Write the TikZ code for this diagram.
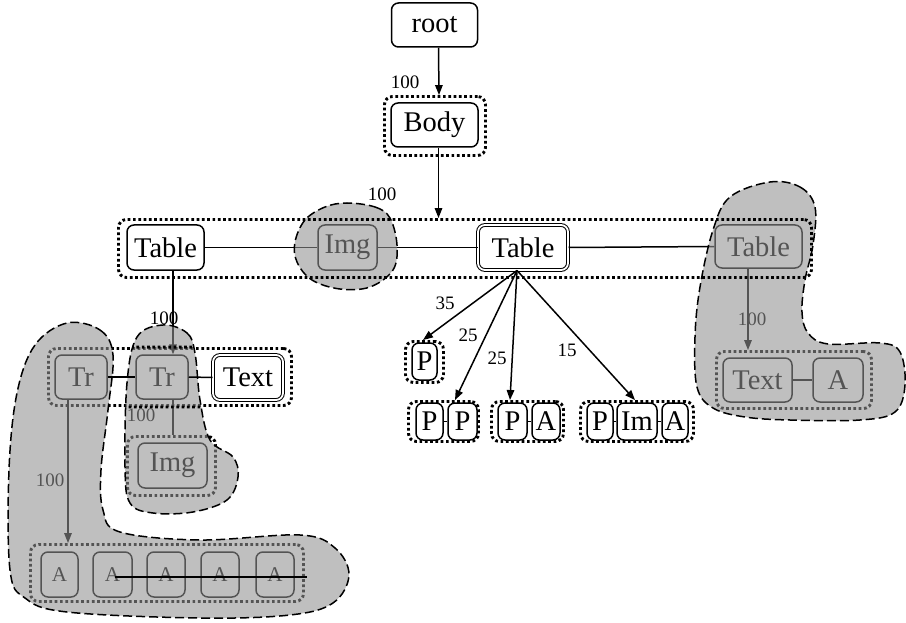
\documentclass[tikz,border=0pt]{standalone}
\usepackage{fontspec}
\setmainfont{Liberation Serif}
\usetikzlibrary{arrows.meta}
\newcommand\nodefont{\fontsize{28.5}{30}\selectfont}
\newcommand\edgefont{\fontsize{19}{20}\selectfont}
\newcommand\smallafont{\fontsize{21}{22}\selectfont}
\begin{document}
\begin{tikzpicture}[x=1pt,y=-1pt,
  box/.style={draw, rounded corners=7pt, line width=1.5pt, inner sep=0pt, font=\nodefont},
  dbox/.style={box, double, double distance=1.8pt, line width=1pt},
  grp/.style={draw, rounded corners=8pt, line width=2.9pt, dash pattern=on 2.7pt off 2.6pt, inner sep=0pt},
  blob/.style={fill=black!43, fill opacity=0.58, draw=black, line width=1.5pt, dash pattern=on 9pt off 4pt},
  arr/.style={line width=1.5pt, -{Triangle[length=10pt,width=7.5pt]}},
  link/.style={line width=1.5pt},
  lbl/.style={font=\edgefont, inner sep=0pt}]
\useasboundingbox (0,0) rectangle (906,623);

% --- top chain
\node[box, minimum width=86pt, minimum height=44pt] (root) at (434.5,25) {root};
\node[grp, minimum width=101pt, minimum height=59pt] (gbody) at (435,126) {};
\node[box, minimum width=87pt, minimum height=44pt] (body) at (434.5,125) {Body};
\draw[arr] ([xshift=4pt]root.south) -- ([xshift=4pt]gbody.north);
\node[lbl] (l1) at (405,82) {100};

% --- table row
\node[box, minimum width=77pt, minimum height=45pt] (table1) at (165.5,247.5) {Table};
\node[box, minimum width=59pt, minimum height=45pt] (img1) at (347.5,247.5) {Img};
\node[dbox, minimum width=90pt, minimum height=45pt] (tablec) at (523,247.5) {Table};
\node[box, minimum width=87pt, minimum height=43pt] (tabler) at (758.5,246.5) {Table};
\draw[link] (table1.east) -- (img1.west);
\draw[link] (img1.east) -- (tablec.west);
\draw[link] (tablec.east) -- (tabler.west);

% --- paragraph groups under the centre table
\node[grp, minimum width=38pt, minimum height=41pt] (gp1) at (424.5,362) {};
\node[box, minimum width=25pt, minimum height=37pt] (p1) at (424.5,361.5) {P};

\node[grp, minimum width=70pt, minimum height=40pt] (gpp) at (443.5,421.5) {};
\node[box, minimum width=27pt, minimum height=37pt] (pp1) at (429.5,421.5) {P};
\node[box, minimum width=29pt, minimum height=37pt] (pp2) at (462.5,421.5) {P};
\draw[link] (pp1.east) -- (pp2.west);

\node[grp, minimum width=72pt, minimum height=40pt] (gpa) at (527.5,421.5) {};
\node[box, minimum width=29pt, minimum height=37pt] (pa1) at (512.5,421.5) {P};
\node[box, minimum width=28pt, minimum height=37pt] (pa2) at (546,421.5) {A};
\draw[link] (pa1.east) -- (pa2.west);

\node[grp, minimum width=113pt, minimum height=40pt] (gpima) at (637,421.5) {};
\node[box, minimum width=26pt, minimum height=37pt] (pi1) at (600,421.5) {P};
\node[box, minimum width=40pt, minimum height=37pt] (pi2) at (637,421.5) {Im};
\node[box, minimum width=26pt, minimum height=37pt] (pi3) at (675,421.5) {A};
\draw[link] (pi1.east) -- (pi2.west);
\draw[link] (pi2.east) -- (pi3.west);

\draw[arr] ([xshift=-6pt]tablec.south) -- ([xshift=-1.5pt]gp1.north);
\draw[arr] ([xshift=-6pt]tablec.south) -- ([xshift=11.5pt]gpp.north);
\draw[arr] ([xshift=-6pt]tablec.south) -- ([xshift=-17.5pt]gpa.north);
\draw[arr] ([xshift=-6pt]tablec.south) -- ([xshift=-2pt]gpima.north);
\node[lbl] (l35) at (445,303) {35};
\node[lbl] (l25a) at (468,335) {25};
\node[lbl] (l25b) at (497,358) {25};
\node[lbl] (l15) at (567,350) {15};

% --- right branch
\node[grp, minimum width=155pt, minimum height=57pt] (gta) at (794,380) {};
\node[box, minimum width=69pt, minimum height=44pt] (text2) at (757.5,380) {Text};
\node[box, minimum width=50pt, minimum height=44pt] (a2) at (838,380) {A};
\draw[link] (text2.east) -- (a2.west);
\draw[arr] ([xshift=-10.5pt]tabler.south) -- ([xshift=-46pt]gta.north);
\node[lbl] (lr) at (752,319) {100};

% --- left branch
\node[grp, minimum width=243pt, minimum height=57pt] (gtr) at (170,377) {};
\node[box, minimum width=52pt, minimum height=44pt] (tr1) at (81,377) {Tr};
\node[box, minimum width=52pt, minimum height=44pt] (tr2) at (162,377) {Tr};
\node[dbox, minimum width=70pt, minimum height=45pt] (text1) at (248,377.5) {Text};
\draw[arr] ([xshift=7.5pt]table1.south) -- ([xshift=11pt]tr2.north);

\node[grp, minimum width=88pt, minimum height=59pt] (gimg) at (171.5,466) {};
\node[box, minimum width=69pt, minimum height=45pt] (img2) at (172.5,465.5) {Img};
\draw[link] ([xshift=11pt]tr2.south) -- ([xshift=1.5pt]gimg.north);
\node[lbl] (limg) at (141,415) {100};

\node[grp, minimum width=273pt, minimum height=57pt] (garow) at (167,573) {};
\foreach \i/\cx/\w in {1/59.5/37, 2/112.5/39, 3/166/38, 4/220/38, 5/275/38}
  \node[box, font=\smallafont, minimum width=\w pt, minimum height=45pt] (ar\i) at (\cx,574.5) {A};
\draw[arr] ([xshift=-13pt]tr1.south) -- ([xshift=-99pt]garow.north);
\node[lbl] (la) at (50,480) {100};
\coordinate (aend) at (307,577);

% --- shaded clusters
\path[blob] plot[smooth cycle, tension=0.6] coordinates {
  (67,323) (100,330) (113,355) (108,410) (101,470) (103,510) (120,532)
  (200,540) (300,535) (335,548) (349,575) (333,603) (290,615) (200,618)
  (67,612) (25,598) (10,570) (9,470) (17,393) (35,345)};
\path[blob] plot[smooth cycle, tension=0.6] coordinates {
  (163,325) (187,333) (195,353) (200,400) (210,440) (233,457) (238,477)
  (227,500) (193,512) (153,513) (130,503) (125,467) (127,383) (137,337)};
\path[blob] plot[smooth cycle, tension=0.6] coordinates {
  (347,203) (375,207) (390,218) (397,245) (393,270) (370,287) (340,289)
  (312,280) (297,262) (295,242) (305,220) (325,207)};
\path[blob] plot[smooth cycle, tension=0.6] coordinates {
  (770,182) (800,187) (815,207) (813,245) (805,280) (802,312) (808,333)
  (828,344) (880,343) (900,352) (905,385) (895,412) (860,420) (790,420)
  (745,417) (713,408) (697,387) (695,337) (700,287) (713,230) (730,197)};

% --- frames and links drawn over the shading
\begin{scope}
  \clip plot[smooth cycle, tension=0.6] coordinates {
    (163,325) (187,333) (195,353) (200,400) (210,440) (233,457) (238,477)
    (227,500) (193,512) (153,513) (130,503) (125,467) (127,383) (137,337)};
  \draw[grp] (gtr.south west) rectangle (gtr.north east);
\end{scope}
\node[grp, minimum width=693pt, minimum height=58pt] (grow) at (465,248.5) {};
\draw[arr] ([xshift=4pt]body.south) -- ([xshift=4pt]body.south |- grow.north);
\node[lbl] (l2) at (382,194) {100};
\draw[link] (tr1.east) -- (tr2.west);
\draw[link] (tr2.east) -- (text1.west);
\draw[line width=1.8pt] ([shift={(2.5pt,-2.5pt)}]ar2.center) -- (aend);
\node[lbl] (ltr) at (164,318) {100};
\end{tikzpicture}
\end{document}
